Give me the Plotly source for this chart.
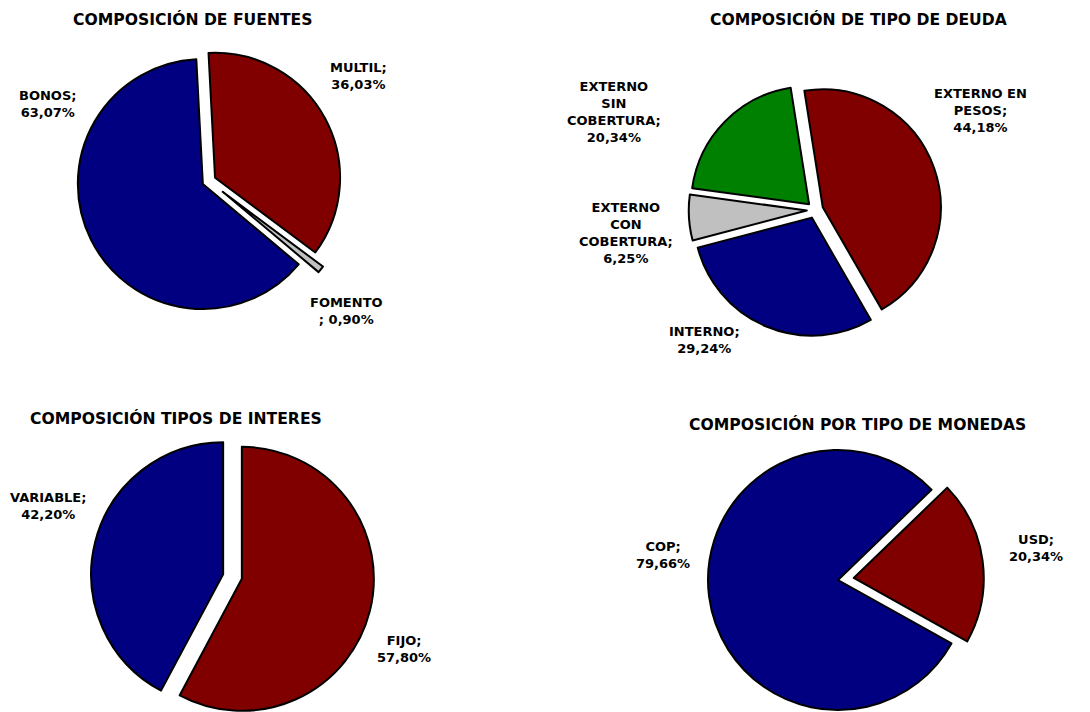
import math
import textwrap
import plotly.graph_objects as go

# page body has an 8px margin: the figure is sized to fill the rest of the window
OFF = 8
FW, FH = 1090 - OFF, 712 - OFF

# ---------------- data ----------------
fuentes_labels = ["MULTIL", "FOMENTO", "BONOS"]
fuentes_values = [36.03, 0.90, 63.07]

deuda_labels = ["EXTERNO EN PESOS", "INTERNO", "EXTERNO CON COBERTURA", "EXTERNO SIN COBERTURA"]
deuda_values = [44.18, 29.24, 6.25, 20.34]

interes_labels = ["FIJO", "VARIABLE"]
interes_values = [57.80, 42.20]

monedas_labels = ["USD", "COP"]
monedas_values = [20.34, 79.66]

chart_titles = [
    "COMPOSICIÓN DE FUENTES",
    "COMPOSICIÓN DE TIPO DE DEUDA",
    "COMPOSICIÓN TIPOS DE INTERES",
    "COMPOSICIÓN POR TIPO DE MONEDAS",
]

# ---------------- styles ----------------
NAVY, MAROON, GREEN, SILVER = "#000080", "#800000", "#008000", "#C0C0C0"
FONT = "DejaVu Sans"
TRANSPARENT = "rgba(0,0,0,0)"


def px_x(sx):
    return (sx - OFF) / FW


def px_y(sy):
    return 1 - (sy - OFF) / FH


fig = go.Figure()


def add_exploded_pie(labels, values, colors, center, r, rotation, pulls):
    """One trace per slice; each slice is exploded by moving its pie domain."""
    total = sum(values)
    cum = 0.0
    for i, v in enumerate(values):
        mid = math.radians(rotation + (cum + v / 2) / total * 360)
        cum += v
        d = pulls[i] * r
        cx = center[0] + d * math.sin(mid)
        cy = center[1] - d * math.cos(mid)
        x0, x1 = px_x(cx - r), px_x(cx + r)
        y0, y1 = px_y(cy + r), px_y(cy - r)
        fig.add_trace(go.Pie(
            labels=labels, values=values, sort=False,
            direction="clockwise", rotation=rotation,
            marker=dict(
                colors=[c if j == i else TRANSPARENT for j, c in enumerate(colors)],
                line=dict(color=["black" if j == i else TRANSPARENT for j in range(len(values))],
                          width=[2 if j == i else 0 for j in range(len(values))]),
            ),
            textinfo="none", hoverinfo="label+percent", showlegend=False,
            domain=dict(x=[max(0, x0), min(1, x1)], y=[max(0, y0), min(1, y1)]),
        ))


add_exploded_pie(fuentes_labels, fuentes_values, [MAROON, SILVER, NAVY],
                 center=(209, 181), r=125, rotation=-3, pulls=[0.055, 0.14, 0.055])
add_exploded_pie(deuda_labels, deuda_values, [MAROON, NAVY, SILVER, GREEN],
                 center=(815, 210), r=118, rotation=-9, pulls=[0.07, 0.07, 0.07, 0.07])
add_exploded_pie(interes_labels, interes_values, [MAROON, NAVY],
                 center=(232.5, 576.5), r=132, rotation=0, pulls=[0.073, 0.073])
add_exploded_pie(monedas_labels, monedas_values, [MAROON, NAVY],
                 center=(838, 580), r=130, rotation=46, pulls=[0.122, 0.0])


def pct(v):
    return f"{v:.2f}".replace(".", ",") + "%"


def label_text(label, value):
    if label == "FOMENTO":
        return f"{label}<br>; {pct(value)}"
    return "<br>".join(textwrap.wrap(label + ";", width=10) + [pct(value)])


annotations = []
title_pos = [(192, 19.5), (858, 19.5), (176, 418), (857, 424)]
for t, (x, y) in zip(chart_titles, title_pos):
    annotations.append(dict(text=t, x=px_x(x), y=px_y(y), xref="paper", yref="paper",
                            showarrow=False, xanchor="center", yanchor="middle",
                            font=dict(family=FONT, size=15.6, color="black", weight="bold")))

label_pos = {
    "MULTIL": (358, 76), "FOMENTO": (346, 311), "BONOS": (47, 104),
    "EXTERNO EN PESOS": (981, 110), "INTERNO": (704, 340),
    "EXTERNO CON COBERTURA": (626, 233), "EXTERNO SIN COBERTURA": (614, 112),
    "FIJO": (404, 649), "VARIABLE": (48, 506),
    "USD": (1036, 548), "COP": (663, 555),
}
for labels, values in [(fuentes_labels, fuentes_values), (deuda_labels, deuda_values),
                       (interes_labels, interes_values), (monedas_labels, monedas_values)]:
    for lab, val in zip(labels, values):
        x, y = label_pos[lab]
        annotations.append(dict(text=label_text(lab, val), x=px_x(x), y=px_y(y),
                                xref="paper", yref="paper", showarrow=False,
                                xanchor="center", yanchor="middle", align="center",
                                font=dict(family=FONT, size=13, color="black", weight="bold")))

fig.update_layout(
    width=FW, height=FH, margin=dict(l=0, r=0, t=0, b=0),
    paper_bgcolor="white", plot_bgcolor="white",
    showlegend=False, annotations=annotations,
)

fig.write_html("out.html")
